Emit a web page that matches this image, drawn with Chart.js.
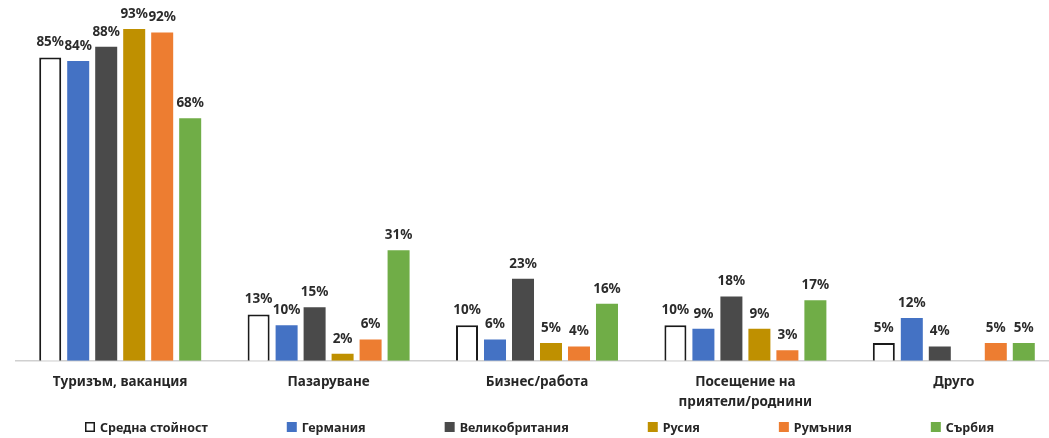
<!DOCTYPE html>
<html>
<head>
<meta charset="utf-8">
<script src="https://cdn.jsdelivr.net/npm/chart.js@4.4.1/dist/chart.umd.min.js"></script>
<style>
  html, body { margin: 0; padding: 0; background: #fff; overflow: hidden; }
  #wrap { position: absolute; left: 0; top: 0; width: 1062px; height: 438px; }
</style>
</head>
<body>
<div id="wrap"><canvas id="trips_chart"></canvas></div>
<script>
// categories + values (%)
var categories = ['Туризъм, ваканция', 'Пазаруване', 'Бизнес/работа', ['Посещение на', 'приятели/роднини'], 'Друго'];
var seriesNames = ['Средна стойност', 'Германия', 'Великобритания', 'Русия', 'Румъния', 'Сърбия'];
var avgValues = [85, 13, 10, 10, 5];
var germanyValues = [84, 10, 6, 9, 12];
var ukValues = [88, 15, 23, 18, 4];
var russiaValues = [93, 2, 5, 9, null];
var romaniaValues = [92, 6, 4, 3, 5];
var serbiaValues = [68, 31, 16, 17, 5];

var fillColors = ['#ffffff', '#4472c4', '#4a4a4a', '#bf9000', '#ed7d31', '#70ad47'];
var FONT = '"Noto Sans", sans-serif';

function bar_ds(i, values) {
    return {
        label: seriesNames[i],
        data: values,
        backgroundColor: fillColors[i],
        borderColor: i == 0 ? '#1a1a1a' : fillColors[i],
        borderWidth: i == 0 ? 2 : 0,
        categoryPercentage: 0.806,
        barPercentage: 0.786,
    }
}

// value labels above bars
var valueLabels = {
    id: 'valueLabels',
    afterDatasetsDraw(chart) {
        var ctx = chart.ctx;
        ctx.save();
        ctx.font = 'bold 13.5px ' + FONT;
        ctx.fillStyle = '#2b2b2b';
        ctx.textAlign = 'center';
        ctx.textBaseline = 'middle';
        chart.data.datasets.forEach((ds, i) => {
            chart.getDatasetMeta(i).data.forEach((el, j) => {
                if (ds.data[j] == null) return;
                ctx.fillText(ds.data[j] + '%', el.x, el.y - 15);
            })
        })
        ctx.restore();
    }
}

// legend drawn by hand so the spacing can be wide without a tall legend box
var bottomLegend = {
    id: 'bottomLegend',
    afterDraw(chart) {
        var ctx = chart.ctx;
        var gap = 79, box = 10, y = 427;
        ctx.save();
        ctx.font = 'bold 12.5px ' + FONT;
        ctx.textBaseline = 'middle';
        var widths = seriesNames.map(n => box + 5 + ctx.measureText(n).width);
        var total = widths.reduce((a, b) => a + b, 0) + gap * (widths.length - 1);
        var x = 539.5 - total / 2;
        seriesNames.forEach((n, i) => {
            ctx.fillStyle = fillColors[i];
            ctx.fillRect(x, y - box / 2, box, box);
            if (i == 0) {
                ctx.strokeStyle = '#1a1a1a';
                ctx.lineWidth = 1.5;
                ctx.strokeRect(x + 0.75, y - box / 2 + 0.75, box - 1.5, box - 1.5);
            }
            ctx.fillStyle = '#262626';
            ctx.fillText(n, x + box + 5, y + 1);
            x += widths[i] + gap;
        })
        ctx.restore();
    }
}

var trips_chart = new Chart(document.getElementById('trips_chart'), {
    type: 'bar',
    data: {
        labels: categories,
        datasets: [
            bar_ds(0, avgValues),
            bar_ds(1, germanyValues),
            bar_ds(2, ukValues),
            bar_ds(3, russiaValues),
            bar_ds(4, romaniaValues),
            bar_ds(5, serbiaValues),
        ]
    },
    options: {
        responsive: true,
        maintainAspectRatio: false,
        animation: false,
        layout: {
            padding: { left: 16, right: 4, top: 4, bottom: 14 }
        },
        scales: {
            x: {
                grid: { display: false, drawTicks: false },
                border: { display: true, color: '#d0d0d0', width: 1.5 },
                ticks: {
                    color: '#262626',
                    font: { family: FONT, size: 13.5, weight: 'bold', lineHeight: 1.45 },
                    padding: 12,
                    maxRotation: 0,
                    autoSkip: false,
                }
            },
            y: {
                display: false,
                min: 0,
                max: 100,
            }
        },
        plugins: {
            legend: { display: false },
            tooltip: { enabled: false },
        }
    },
    plugins: [valueLabels, bottomLegend]
})
</script>
</body>
</html>
